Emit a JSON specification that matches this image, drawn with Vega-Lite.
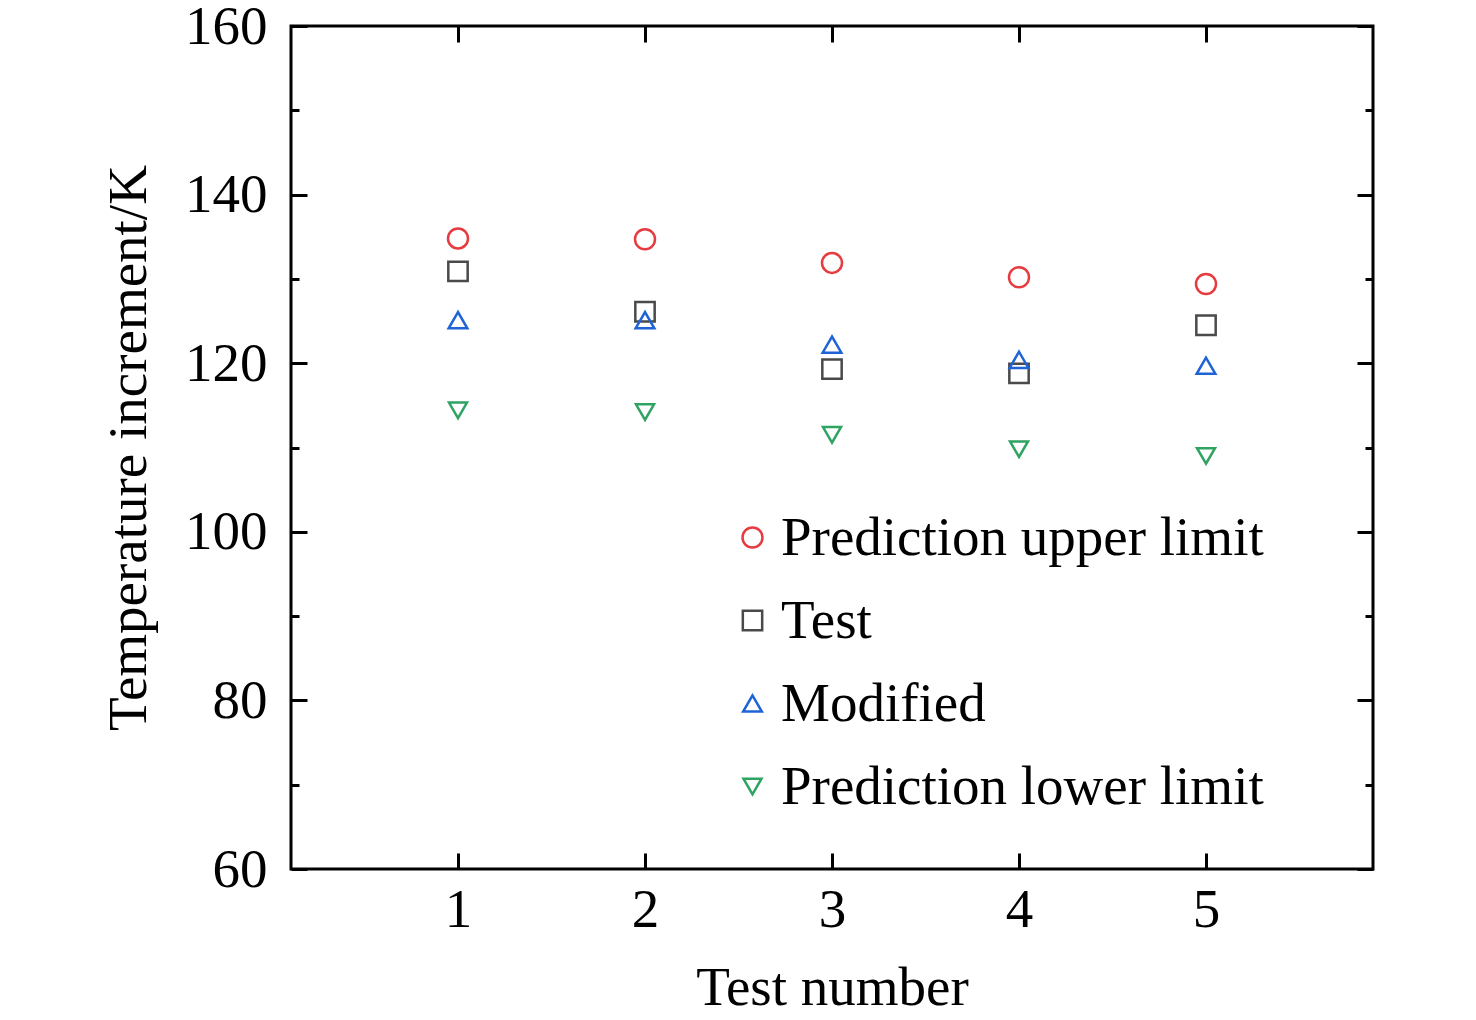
{
  "$schema": "https://vega.github.io/schema/vega-lite/v6.json",
  "width": 1082,
  "height": 843,
  "autosize": "none",
  "padding": {"left": 291, "top": 26, "right": 103, "bottom": 151},
  "background": "white",
  "data": {
    "values": [
      {"test": 1, "series": "Prediction upper limit", "value": 134.8},
      {"test": 2, "series": "Prediction upper limit", "value": 134.7},
      {"test": 3, "series": "Prediction upper limit", "value": 131.9},
      {"test": 4, "series": "Prediction upper limit", "value": 130.2},
      {"test": 5, "series": "Prediction upper limit", "value": 129.4},
      {"test": 1, "series": "Test", "value": 130.9},
      {"test": 2, "series": "Test", "value": 126.1},
      {"test": 3, "series": "Test", "value": 119.3},
      {"test": 4, "series": "Test", "value": 118.8},
      {"test": 5, "series": "Test", "value": 124.5},
      {"test": 1, "series": "Modified", "value": 125.1},
      {"test": 2, "series": "Modified", "value": 125.1},
      {"test": 3, "series": "Modified", "value": 122.2},
      {"test": 4, "series": "Modified", "value": 120.4},
      {"test": 5, "series": "Modified", "value": 119.7},
      {"test": 1, "series": "Prediction lower limit", "value": 114.4},
      {"test": 2, "series": "Prediction lower limit", "value": 114.2},
      {"test": 3, "series": "Prediction lower limit", "value": 111.5},
      {"test": 4, "series": "Prediction lower limit", "value": 109.8},
      {"test": 5, "series": "Prediction lower limit", "value": 109.0}
    ]
  },
  "resolve": {"axis": {"x": "independent", "y": "independent"}},
  "layer": [
    {
      "mark": {"type": "point", "filled": false, "strokeWidth": 2.5, "opacity": 1},
      "encoding": {
        "x": {
          "field": "test",
          "type": "quantitative",
          "scale": {"domain": [0.107, 5.893], "nice": false, "zero": false},
          "axis": {
            "orient": "bottom",
            "values": [1, 2, 3, 4, 5],
            "title": "Test number",
            "tickSize": -16,
            "labelPadding": 30,
            "titlePadding": 24
          }
        },
        "y": {
          "field": "value",
          "type": "quantitative",
          "scale": {"domain": [60, 160], "nice": false, "zero": false},
          "axis": {
            "orient": "left",
            "values": [60, 70, 80, 90, 100, 110, 120, 130, 140, 150, 160],
            "labelExpr": "datum.value % 20 === 0 ? datum.label : ''",
            "tickSize": {"condition": {"test": "datum.value % 20 === 0", "value": -16}, "value": -8},
            "labelPadding": 40,
            "title": "Temperature increment/K",
            "titlePadding": 27
          }
        },
        "color": {
          "field": "series",
          "type": "nominal",
          "scale": {
            "domain": ["Prediction upper limit", "Test", "Modified", "Prediction lower limit"],
            "range": ["#e63c40", "#4a4a4a", "#1f64d6", "#2fa362"]
          },
          "legend": {
            "orient": "none",
            "legendX": 434,
            "legendY": 484,
            "title": null
          }
        },
        "shape": {
          "field": "series",
          "type": "nominal",
          "scale": {
            "domain": ["Prediction upper limit", "Test", "Modified", "Prediction lower limit"],
            "range": ["circle", "square", "triangle-up", "triangle-down"]
          }
        },
        "size": {
          "field": "series",
          "type": "nominal",
          "scale": {
            "domain": ["Prediction upper limit", "Test", "Modified", "Prediction lower limit"],
            "range": [400, 324, 576, 576]
          },
          "legend": null
        }
      }
    },
    {
      "mark": {"type": "point", "opacity": 0},
      "encoding": {
        "x": {
          "field": "test",
          "type": "quantitative",
          "axis": {
            "orient": "top",
            "values": [1, 2, 3, 4, 5],
            "labels": false,
            "title": null,
            "tickSize": -16
          }
        },
        "y": {
          "field": "value",
          "type": "quantitative",
          "axis": {
            "orient": "right",
            "values": [60, 70, 80, 90, 100, 110, 120, 130, 140, 150, 160],
            "labels": false,
            "title": null,
            "tickSize": {"condition": {"test": "datum.value % 20 === 0", "value": -16}, "value": -8}
          }
        }
      }
    }
  ],
  "config": {
    "view": {"stroke": "black", "strokeWidth": 3},
    "axis": {
      "domain": false,
      "grid": false,
      "tickColor": "black",
      "tickWidth": 3,
      "labelFont": "Liberation Serif",
      "labelFontSize": 55,
      "labelColor": "black",
      "titleFont": "Liberation Serif",
      "titleFontSize": 55,
      "titleFontWeight": "normal",
      "titleColor": "black"
    },
    "legend": {
      "labelFont": "Liberation Serif",
      "labelFontSize": 55,
      "labelColor": "black",
      "symbolSize": 260,
      "symbolStrokeWidth": 2.5,
      "symbolOpacity": 1,
      "rowPadding": 27,
      "labelOffset": 1,
      "padding": 0,
      "labelLimit": 800
    }
  }
}
